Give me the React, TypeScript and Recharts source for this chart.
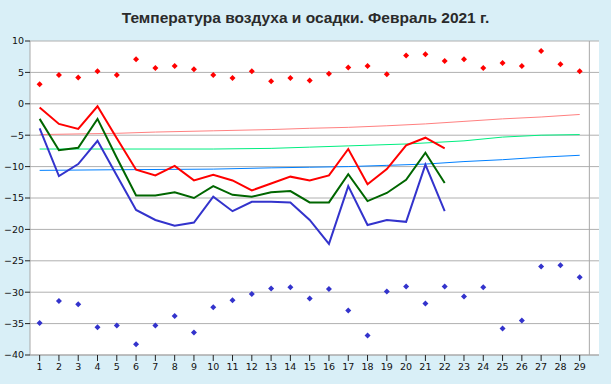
import React from 'react';
import { ComposedChart, Line, Scatter, XAxis, YAxis, CartesianGrid, ReferenceLine } from 'recharts';

const title = 'Температура воздуха и осадки. Февраль 2021 г.';

const days = [1, 2, 3, 4, 5, 6, 7, 8, 9, 10, 11, 12, 13, 14, 15, 16, 17, 18, 19, 20, 21, 22, 23, 24, 25, 26, 27, 28, 29];

const tempMax = [-0.6, -3.2, -4.0, -0.4, -5.5, -10.5, -11.4, -9.9, -12.2, -11.3, -12.2, -13.8, -12.7, -11.6, -12.2, -11.4, -7.2, -12.8, -10.4, -6.6, -5.4, -7.1];
const tempMean = [-2.4, -7.4, -7.0, -2.4, -8.6, -14.6, -14.6, -14.1, -15.0, -13.1, -14.5, -14.8, -14.1, -13.9, -15.7, -15.7, -11.2, -15.5, -14.2, -12.1, -7.8, -12.6];
const tempMin = [-3.9, -11.5, -9.6, -5.9, -11.4, -16.9, -18.5, -19.4, -18.9, -14.8, -17.1, -15.6, -15.6, -15.7, -18.5, -22.3, -13.1, -19.3, -18.5, -18.8, -9.7, -17.1];

const recordMax = [3.1, 4.6, 4.2, 5.2, 4.6, 7.1, 5.7, 6.0, 5.5, 4.6, 4.1, 5.2, 3.6, 4.1, 3.7, 4.8, 5.8, 6.0, 4.7, 7.7, 7.9, 6.8, 7.1, 5.7, 6.5, 6.0, 8.4, 6.3, 5.2];
const recordMin = [-34.9, -31.4, -31.9, -35.6, -35.3, -38.3, -35.3, -33.8, -36.4, -32.4, -31.3, -30.3, -29.4, -29.2, -31.0, -29.5, -32.9, -36.9, -29.9, -29.1, -31.8, -29.1, -30.7, -29.2, -35.8, -34.5, -25.9, -25.7, -27.6];

const normMaxDays = [1, 5, 7, 10, 13, 15, 17, 19, 21, 23, 25, 27, 29];
const normMaxVals = [-4.9, -4.7, -4.5, -4.3, -4.1, -3.9, -3.75, -3.5, -3.2, -2.8, -2.4, -2.1, -1.7];
const normMeanDays = [1, 10, 13, 15, 17, 20, 23, 25, 27, 29];
const normMeanVals = [-7.2, -7.2, -7.1, -6.9, -6.7, -6.4, -5.9, -5.3, -5.0, -4.9];
const normMinDays = [1, 5, 10, 13, 15, 17, 19, 21, 23, 25, 27, 29];
const normMinVals = [-10.6, -10.5, -10.4, -10.2, -10.1, -10.0, -9.8, -9.6, -9.2, -8.9, -8.5, -8.2];

const yTicks = [-40, -35, -30, -25, -20, -15, -10, -5, 0, 5, 10];

const pick = (ds: number[], vs: number[], d: number) => {
  const i = ds.indexOf(d);
  return i >= 0 ? vs[i] : null;
};

const data = days.map((d, i) => ({
  day: d,
  tMax: i < tempMax.length ? tempMax[i] : null,
  tMean: i < tempMean.length ? tempMean[i] : null,
  tMin: i < tempMin.length ? tempMin[i] : null,
  rMax: recordMax[i],
  rMin: recordMin[i],
  nMax: pick(normMaxDays, normMaxVals, d),
  nMean: pick(normMeanDays, normMeanVals, d),
  nMin: pick(normMinDays, normMinVals, d),
}));

const makeDiamond = (color: string) => (props: any) => {
  const { cx, cy } = props;
  if (cx == null || cy == null || isNaN(cx) || isNaN(cy)) return <g />;
  const r = 3;
  return (
    <polygon
      points={`${cx},${cy - r} ${cx + r},${cy} ${cx},${cy + r} ${cx - r},${cy}`}
      fill={color}
    />
  );
};

const fmt = (v: number) => (v < 0 ? '\u2212' + Math.abs(v) : String(v));

const tickStyle = { fontSize: 9.5, fontFamily: 'DejaVu Sans, sans-serif', fill: '#111' };

export default function App() {
  return (
    <div
      style={{
        position: 'absolute',
        left: 0,
        top: 0,
        width: 611,
        height: 384,
        background: '#d9eff7',
        overflow: 'hidden',
      }}
    >
      <div
        style={{
          position: 'absolute',
          left: 0,
          top: 9,
          width: 611,
          textAlign: 'center',
          fontFamily: 'Liberation Sans, Arial, sans-serif',
          fontWeight: 'bold',
          fontSize: 15.5,
          lineHeight: '18px',
          color: '#2a2a2a',
        }}
      >
        {title}
      </div>
      <div style={{ position: 'absolute', left: 0, top: 0 }}>
        <ComposedChart
          width={611}
          height={384}
          data={data}
          margin={{ top: 41, right: 12, bottom: 0, left: 0 }}
        >
          <CartesianGrid vertical={false} stroke="#b0b0b0" fill="#ffffff" strokeWidth={1} />
          <XAxis
            dataKey="day"
            type="number"
            domain={[0.5, 29.5]}
            ticks={days}
            interval={0}
            height={29}
            tick={tickStyle}
            tickSize={6}
            tickMargin={2}
            axisLine={{ stroke: '#a8a8a8' }}
            tickLine={{ stroke: '#222' }}
            allowDecimals={false}
          />
          <YAxis
            type="number"
            domain={[-40, 10]}
            ticks={yTicks}
            interval={0}
            width={30}
            tick={tickStyle}
            tickFormatter={fmt}
            tickSize={5}
            tickMargin={1}
            axisLine={{ stroke: '#a8a8a8' }}
            tickLine={{ stroke: '#222' }}
          />
          <ReferenceLine x={29.5} stroke="#a8a8a8" strokeWidth={1} />
          <Line dataKey="nMax" stroke="#ff8080" strokeWidth={1} dot={false} connectNulls isAnimationActive={false} />
          <Line dataKey="nMean" stroke="#00ee80" strokeWidth={1} dot={false} connectNulls isAnimationActive={false} />
          <Line dataKey="nMin" stroke="#0080ff" strokeWidth={1} dot={false} connectNulls isAnimationActive={false} />
          <Scatter dataKey="rMax" fill="#ff0000" shape={makeDiamond('#ff0000')} isAnimationActive={false} />
          <Scatter dataKey="rMin" fill="#3333cc" shape={makeDiamond('#3333cc')} isAnimationActive={false} />
          <Line dataKey="tMin" stroke="#3333cc" strokeWidth={2} dot={false} isAnimationActive={false} />
          <Line dataKey="tMean" stroke="#006600" strokeWidth={2} dot={false} isAnimationActive={false} />
          <Line dataKey="tMax" stroke="#ff0000" strokeWidth={2} dot={false} isAnimationActive={false} />
        </ComposedChart>
      </div>
    </div>
  );
}
